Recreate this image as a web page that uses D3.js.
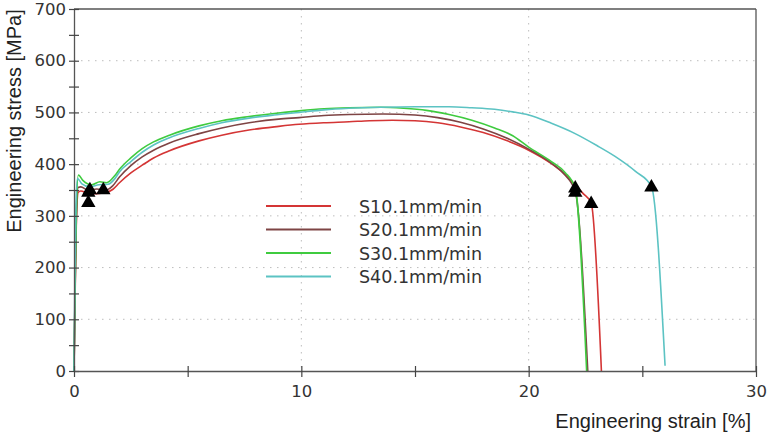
<!DOCTYPE html>
<html>
<head>
<meta charset="utf-8">
<script src="https://cdn.jsdelivr.net/npm/d3@7"></script>
<style>
  body { margin: 0; background: #fff; }
  svg { display: block; }
</style>
</head>
<body>
<div id="chart"></div>
<script>
// stress-strain curves, [strain %, stress MPa]
var seriesNames = ["S10.1mm/min", "S20.1mm/min", "S30.1mm/min", "S40.1mm/min"];
var seriesColors = ["#d43535", "#7e4444", "#3fcb3f", "#5cc3c3"];

var s1 = [[0,0],[0.05,150],[0.1,280],[0.18,345],[0.3,348],[0.6,344],[1.0,343],[1.4,345],[1.7,351],
  [2.0,364],[2.5,383],[3.0,398],[3.5,412],[4.2,426],[5.5,445],[6.5,456],[7.7,466],[9,473],[9.9,477],
  [11,480],[12.1,482],[13,484],[14,485],[15,484],[16,480],[17,472],[18,461],[19,446],[20,427],
  [21,401],[21.5,384],[22,362],[22.4,343],[22.75,325],[23.2,0]];
var s2 = [[0,0],[0.05,160],[0.1,290],[0.18,355],[0.3,356],[0.6,350],[1.0,352],[1.4,350],[1.7,358],
  [2.0,375],[2.5,397],[3.0,414],[3.5,427],[4.2,441],[5.5,459],[6.5,470],[7.7,480],[9,487],[9.9,490],
  [11,494],[12.1,496],[13.6,497],[15,495],[16,490],[17,481],[18,468],[19,451],[20,429],[21,402],
  [21.6,379],[22.05,347],[22.6,0]];
var s3 = [[0,0],[0.05,170],[0.1,300],[0.19,379],[0.4,368],[0.78,360],[1.14,366],[1.43,364],[1.8,378],
  [2.0,390],[2.5,412],[3.0,430],[3.5,443],[4.2,456],[5.5,474],[6.5,484],[7.7,492],[8.8,498],[9.9,503],
  [11,507],[12.1,509],[13.5,510],[14.5,508],[15.5,504],[16.5,496],[17.5,485],[18.5,470],[19.3,455],
  [20,433],[21,405],[21.6,384],[22.05,353],[22.55,0]];
var s4 = [[0,0],[0.04,180],[0.08,310],[0.15,372],[0.35,362],[0.7,356],[1.1,360],[1.5,361],[1.8,372],
  [2.0,385],[2.5,405],[3.0,423],[3.5,437],[4.2,451],[5.5,469],[6.5,480],[7.7,489],[8.8,495],[9.9,500],
  [11,505],[12.1,508],[13.5,510],[15,511],[16.5,511],[17.5,509],[18.5,506],[19.3,501],[20,495],
  [21,479],[22,460],[23,436],[23.8,415],[24.7,386],[25.4,357],[26.0,10]];
var seriesData = [s1, s2, s3, s4];

// black triangles at the start of the plateau and at fracture
var startMarks = [[0.63,327],[0.63,347],[1.29,352],[0.7,352]];
var endMarks = [[22.75,325],[22.05,347],[22.05,355],[25.4,357]];

var xTicks = [0, 10, 20, 30];
var yTicks = [0, 100, 200, 300, 400, 500, 600, 700];

var W = 769, H = 442;
var plotLeft = 74, plotRight = 756, plotTop = 9, plotBottom = 371;

var svg = d3.select("#chart").append("svg")
  .attr("width", W)
  .attr("height", H);

var x = d3.scaleLinear().domain([0, 30]).range([plotLeft, plotRight]);
var y = d3.scaleLinear().domain([0, 700]).range([plotBottom, plotTop]);

// dotted grid
svg.append("g")
  .selectAll("line")
  .data(yTicks.filter(function(d) { return d > 0 && d < 700; }))
  .enter().append("line")
    .attr("x1", plotLeft).attr("x2", plotRight)
    .attr("y1", function(d) { return y(d); })
    .attr("y2", function(d) { return y(d); })
    .attr("stroke", "#bdbdbd")
    .attr("stroke-dasharray", "1.5,5.5");

svg.append("g")
  .selectAll("line")
  .data(xTicks.filter(function(d) { return d > 0 && d < 30; }))
  .enter().append("line")
    .attr("y1", plotTop).attr("y2", plotBottom)
    .attr("x1", function(d) { return x(d); })
    .attr("x2", function(d) { return x(d); })
    .attr("stroke", "#bdbdbd")
    .attr("stroke-dasharray", "1.5,5.5");

// frame top + right
svg.append("line").attr("x1", plotLeft).attr("x2", plotRight).attr("y1", plotTop).attr("y2", plotTop)
  .attr("stroke", "#555").attr("stroke-width", 1.3);
svg.append("line").attr("x1", plotRight).attr("x2", plotRight).attr("y1", plotTop).attr("y2", plotBottom)
  .attr("stroke", "#555").attr("stroke-width", 1.3);

// curves
var line = d3.line()
  .x(function(d) { return x(d[0]); })
  .y(function(d) { return y(d[1]); })
  .curve(d3.curveMonotoneX);

svg.append("g")
  .selectAll("path")
  .data(seriesData)
  .enter().append("path")
    .attr("d", line)
    .attr("fill", "none")
    .attr("stroke", function(d, i) { return seriesColors[i]; })
    .attr("stroke-width", 1.6);

// axes (ticks cross the axis line)
var yAll = d3.range(0, 701, 50);
var xAll = d3.range(0, 31, 5);

var yAxis = svg.append("g")
  .attr("transform", "translate(" + plotLeft + ",0)")
  .call(d3.axisLeft(y).tickValues(yAll).tickSize(5).tickSizeOuter(0)
    .tickFormat(function(d) { return d % 100 === 0 ? d : ""; }));
svg.append("g")
  .attr("transform", "translate(" + plotLeft + ",0)")
  .call(d3.axisRight(y).tickValues(yAll).tickSize(5).tickSizeOuter(0).tickFormat(""))
  .select(".domain").remove();

var xAxis = svg.append("g")
  .attr("transform", "translate(0," + plotBottom + ")")
  .call(d3.axisBottom(x).tickValues(xAll).tickSize(6).tickSizeOuter(0)
    .tickFormat(function(d) { return d % 10 === 0 ? d : ""; }));
svg.append("g")
  .attr("transform", "translate(0," + plotBottom + ")")
  .call(d3.axisTop(x).tickValues(xAll).tickSize(5).tickSizeOuter(0).tickFormat(""))
  .select(".domain").remove();

svg.selectAll(".domain").attr("stroke", "#555").attr("stroke-width", 1.3);
svg.selectAll(".tick line").attr("stroke", "#444").attr("stroke-width", 1.2);

yAxis.selectAll("text")
  .attr("x", -8)
  .attr("font-family", "DejaVu Sans")
  .attr("font-size", 16.5)
  .attr("fill", "#333");
xAxis.selectAll("text")
  .attr("y", 14)
  .attr("font-family", "DejaVu Sans")
  .attr("font-size", 16.5)
  .attr("fill", "#333");

// markers
var tri = d3.symbol().type(d3.symbolTriangle).size(90);
svg.append("g")
  .selectAll("path")
  .data(startMarks.concat(endMarks))
  .enter().append("path")
    .attr("d", tri)
    .attr("transform", function(d) { return "translate(" + x(d[0]) + "," + (y(d[1]) + 1) + ")"; })
    .attr("fill", "#000");

// legend
var legend = svg.append("g");
legend.selectAll("line")
  .data(seriesNames)
  .enter().append("line")
    .attr("x1", 266).attr("x2", 331)
    .attr("y1", function(d, i) { return 206 + i * 23.5; })
    .attr("y2", function(d, i) { return 206 + i * 23.5; })
    .attr("stroke", function(d, i) { return seriesColors[i]; })
    .attr("stroke-width", 2);
legend.selectAll("text")
  .data(seriesNames)
  .enter().append("text")
    .attr("x", 359)
    .attr("y", function(d, i) { return 213 + i * 23.3; })
    .attr("font-family", "DejaVu Sans")
    .attr("font-size", 17.5)
    .attr("fill", "#333")
    .text(function(d) { return d; });

// axis titles
svg.append("text")
  .attr("transform", "translate(21,121) rotate(-90)")
  .attr("text-anchor", "middle")
  .attr("font-family", "Liberation Sans")
  .attr("font-size", 20)
  .attr("fill", "#222")
  .text("Engineering stress [MPa]");

svg.append("text")
  .attr("x", 751)
  .attr("y", 428)
  .attr("text-anchor", "end")
  .attr("font-family", "Liberation Sans")
  .attr("font-size", 20)
  .attr("fill", "#222")
  .text("Engineering strain [%]");
</script>
</body>
</html>
